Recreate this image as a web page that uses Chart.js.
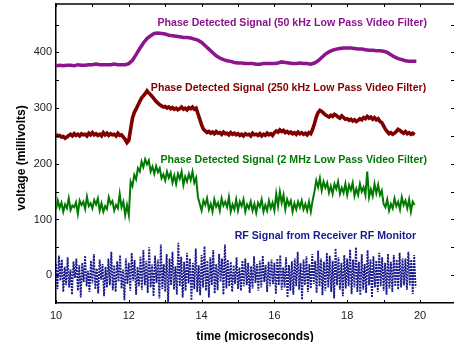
<!DOCTYPE html>
<html>
<head>
<meta charset="utf-8">
<script src="https://cdn.jsdelivr.net/npm/chart.js@4.4.1/dist/chart.umd.min.js"></script>
<style>
  html, body { margin: 0; padding: 0; background: #fff; }
  #wrap { width: 454px; height: 342px; }
</style>
</head>
<body>
<div id="wrap"><canvas id="myChart" width="454" height="342"></canvas></div>
<script>
// traces all start at t = 10 us
const t0 = 10;

// 50 kHz filter, one sample every 0.1 us
const sig50k = [
  376, 377, 376, 377, 377, 376, 378, 377, 377, 378,
  378, 379, 378, 378, 378, 378, 379, 378, 378, 378,
  380, 386, 396, 407, 417, 425, 430, 434, 435, 434,
  433, 431, 430, 429, 428, 427, 427, 426, 424, 422,
  418, 412, 406, 400, 394, 390, 387, 385, 384, 382,
  381, 381, 380, 380, 380, 379, 379, 380, 380, 380,
  380, 381, 383, 382, 381, 380, 380, 381, 380, 380,
  379, 381, 385, 391, 397, 401, 404, 406, 407, 408,
  408, 408, 407, 406, 406, 405, 404, 404, 403, 403,
  402, 400, 396, 392, 389, 387, 385, 384, 384, 384
];

// 250 kHz filter, one sample every 0.05 us
const sig250k = [
  253, 250, 251, 248, 249, 246, 248, 251, 253, 250, 254, 251, 253, 250, 254, 252, 253, 250, 255, 252,
  256, 252, 254, 251, 253, 250, 256, 252, 255, 251, 254, 252, 253, 250, 255, 251, 252, 248, 244, 238,
  242, 262, 282, 292, 298, 305, 312, 318, 322, 326, 331, 327, 324, 320, 316, 312, 309, 306, 304, 302,
  303, 300, 302, 299, 301, 298, 300, 297, 299, 302, 298, 300, 297, 301, 299, 302, 298, 300, 290, 280,
  270, 262, 259, 256, 258, 255, 257, 254, 258, 255, 256, 253, 257, 254, 255, 252, 256, 253, 255, 252,
  254, 251, 253, 250, 254, 252, 253, 250, 255, 252, 253, 251, 254, 250, 253, 251, 255, 252, 254, 251,
  256, 259, 257, 261, 258, 260, 256, 258, 255, 257, 254, 256, 253, 257, 254, 256, 253, 255, 252, 256,
  254, 262, 272, 284, 292, 296, 294, 291, 288, 286, 284, 287, 285, 289, 287, 284, 282, 286, 283, 280,
  281, 278, 280, 277, 279, 276, 278, 281, 279, 283, 281, 285, 282, 284, 280, 283, 279, 281, 276, 274,
  268, 262, 258, 254, 256, 253, 255, 258, 262, 260, 257, 255, 258, 254, 256, 253, 255, 252
];

// 2 MHz filter, one sample every 0.05 us
const sig2M = [
  118, 134, 121, 130, 114, 127, 120, 138, 117, 125, 122, 131, 110, 134, 126, 132, 119, 141, 124, 129,
  120, 135, 127, 138, 116, 129, 114, 124, 119, 140, 128, 133, 116, 126, 120, 146, 122, 132, 108, 126,
  108, 168, 160, 180, 172, 192, 186, 204, 194, 208, 199, 206, 186, 195, 182, 196, 185, 192, 174, 181,
  170, 186, 175, 184, 166, 179, 164, 182, 173, 186, 162, 177, 168, 182, 171, 186, 166, 175, 140, 128,
  116, 134, 126, 138, 118, 128, 114, 136, 123, 130, 116, 138, 125, 132, 122, 140, 114, 127, 118, 136,
  116, 132, 124, 136, 114, 127, 120, 132, 116, 128, 112, 130, 123, 136, 114, 126, 116, 134, 120, 130,
  116, 146, 124, 150, 130, 144, 118, 136, 126, 134, 114, 129, 118, 132, 122, 134, 118, 128, 116, 132,
  114, 134, 150, 170, 158, 174, 152, 168, 157, 166, 148, 160, 146, 164, 155, 168, 146, 157, 148, 164,
  144, 162, 153, 166, 142, 155, 144, 164, 150, 158, 144, 186, 140, 154, 142, 164, 147, 162, 144, 152,
  128, 122, 136, 116, 128, 120, 138, 124, 132, 118, 140, 126, 134, 120, 136, 114, 132, 126
];

// RF monitor, one sample every 0.04 us
const sigRF = [
  20, -25, 35, -10, 28, -30, 15, -18, 32, -22,
  10, -35, 25, -5, 30, -28, 18, -40, 22, -12,
  35, -20, 8, -30, 26, -15, 38, -25, 12, -33,
  28, -8, 20, -38, 15, -22, 30, -18, 42, -27,
  18, -30, 25, -12, 36, -24, 10, -45, 30, -16,
  22, -28, 40, -10, 27, -35, 15, -20, 33, -26,
  45, -18, 26, -32, 50, -22, 19, -38, 35, -14,
  28, -42, 55, -25, 20, -30, 38, -48, 30, -18,
  42, -26, 16, -35, 58, -20, 33, -40, 24, -28,
  40, -15, 30, -45, 22, -25, 48, -30, 18, -36,
  36, -22, 52, -28, 26, -40, 32, -18, 45, -33,
  20, -27, 38, -12, 30, -35, 55, -24, 28, -20,
  24, -30, 18, -16, 32, -25, 14, -28, 26, -20,
  30, -18, 22, -32, 16, -24, 34, -14, 20, -28,
  26, -22, 35, -12, 18, -30, 24, -20, 28, -16,
  22, -34, 30, -18, 36, -26, 14, -22, 32, -40,
  18, -28, 25, -35, 30, -20, 42, -26, 22, -44,
  28, -18, 34, -30, 20, -24, 38, -16, 26, -32,
  44, -20, 30, -36, 24, -28, 40, -22, 35, -30,
  26, -42, 48, -18, 32, -26, 22, -38, 36, -24,
  30, -20, 46, -34, 28, -22, 50, -30, 24, -36,
  38, -26, 20, -32, 45, -18, 28, -40, 34, -22,
  26, -30, 40, -20, 32, -28, 22, -35, 38, -24,
  24, -30, 36, -20, 28, -26, 40, -22, 30, -18,
  30, -26, 42, -18, 28, -34, 36, -22
];

const xTicks = [10, 12, 14, 16, 18, 20];
const xMinor = [10, 11, 12, 13, 14, 15, 16, 17, 18, 19, 20];
const yTicks = [0, 100, 200, 300, 400];
const yMinor = [0, 50, 100, 150, 200, 250, 300, 350, 400, 450];

const seriesNames = [
  "Phase Detected Signal (50 kHz Low Pass Video Filter)",
  "Phase Detected Signal (250 kHz Low Pass Video Filter)",
  "Phase Detected Signal (2 MHz Low Pass Video Filter)",
  "RF Signal from Receiver RF Monitor",
];

const purple = "#8c148c";
const darkred = "#800000";
const green = "#007a00";
const navy = "#1a1a8c";

function pts(vals, dt) {
  return vals.map((v, i) => ({ x: t0 + i * dt, y: v }));
}

// in-plot captions, anchored by data coords (right edge)
const notes = [
  { text: seriesNames[0], x: 20.19, y: 453, color: purple },
  { text: seriesNames[1], x: 20.17, y: 336, color: darkred },
  { text: seriesNames[2], x: 20.19, y: 207, color: green },
  { text: seriesNames[3], x: 19.89, y: 71, color: navy },
];

const frame = {
  id: "frame",
  afterDraw(chart) {
    const { ctx, chartArea: a, scales } = chart;
    const xs = scales.x, ys = scales.y;
    ctx.save();
    ctx.strokeStyle = "#000";
    ctx.lineWidth = 1.5;
    ctx.beginPath();
    ctx.moveTo(a.left, a.top);
    ctx.lineTo(a.right, a.top);
    ctx.stroke();
    ctx.lineWidth = 1;
    ctx.beginPath();
    xMinor.forEach(v => {
      const px = Math.round(xs.getPixelForValue(v)) + 0.5;
      ctx.moveTo(px, a.bottom); ctx.lineTo(px, a.bottom - 3);
      ctx.moveTo(px, a.top); ctx.lineTo(px, a.top + 3);
    });
    yMinor.forEach(v => {
      const py = Math.round(ys.getPixelForValue(v)) + 0.5;
      ctx.moveTo(a.left, py); ctx.lineTo(a.left + 3, py);
      ctx.moveTo(a.right, py); ctx.lineTo(a.right - 3, py);
    });
    ctx.stroke();

    ctx.font = "bold 10.6px 'Liberation Sans', Arial, sans-serif";
    ctx.textAlign = "right";
    ctx.textBaseline = "middle";
    notes.forEach(n => {
      ctx.fillStyle = n.color;
      ctx.fillText(n.text, xs.getPixelForValue(n.x), ys.getPixelForValue(n.y));
    });

    ctx.fillStyle = "#000";
    ctx.font = "bold 12px 'Liberation Sans', Arial, sans-serif";
    ctx.textAlign = "center";
    ctx.fillText("time (microseconds)", (a.left + a.right) / 2, 337);
    ctx.translate(22, 158);
    ctx.rotate(-Math.PI / 2);
    ctx.fillText("voltage (millivolts)", 0, 0);
    ctx.restore();
  }
};

const config = {
  type: "line",
  data: {
    datasets: [
      {
        label: seriesNames[3],
        data: pts(sigRF, 0.04),
        borderColor: navy,
        borderWidth: 1.8,
        borderDash: [2, 1],
      },
      {
        label: seriesNames[2],
        data: pts(sig2M, 0.05),
        borderColor: green,
        borderWidth: 2,
      },
      {
        label: seriesNames[1],
        data: pts(sig250k, 0.05),
        borderColor: darkred,
        borderWidth: 3.6,
      },
      {
        label: seriesNames[0],
        data: pts(sig50k, 0.1),
        borderColor: purple,
        borderWidth: 3.5,
      },
    ],
  },
  options: {
    responsive: false,
    animation: false,
    devicePixelRatio: 1,
    elements: { point: { radius: 0 }, line: { tension: 0 } },
    layout: { padding: { top: 4, left: 0, right: 0, bottom: 0 } },
    plugins: { legend: { display: false }, tooltip: { enabled: false } },
    scales: {
      x: {
        type: "linear",
        min: 10,
        max: 20.934,
        afterFit: s => { s.height = 39; s.paddingLeft = 0; s.paddingRight = 0; },
        afterBuildTicks: s => { s.ticks = xTicks.map(v => ({ value: v })); },
        grid: { display: false, drawTicks: false },
        border: { display: true, color: "#000", width: 1.5 },
        ticks: {
          padding: 6,
          color: "#222",
          maxRotation: 0,
          font: { family: "'Liberation Sans', Arial, sans-serif", size: 11 },
        },
      },
      y: {
        min: -50,
        max: 487,
        afterFit: s => { s.width = 56; s.paddingTop = 0; s.paddingBottom = 0; },
        afterBuildTicks: s => { s.ticks = yTicks.map(v => ({ value: v })); },
        grid: { display: false, drawTicks: false },
        border: { display: true, color: "#000", width: 1.5 },
        ticks: {
          padding: 4,
          color: "#222",
          font: { family: "'Liberation Sans', Arial, sans-serif", size: 11 },
        },
      },
    },
  },
  plugins: [frame],
};

const myChart = new Chart(document.getElementById("myChart"), config);
</script>
</body>
</html>
